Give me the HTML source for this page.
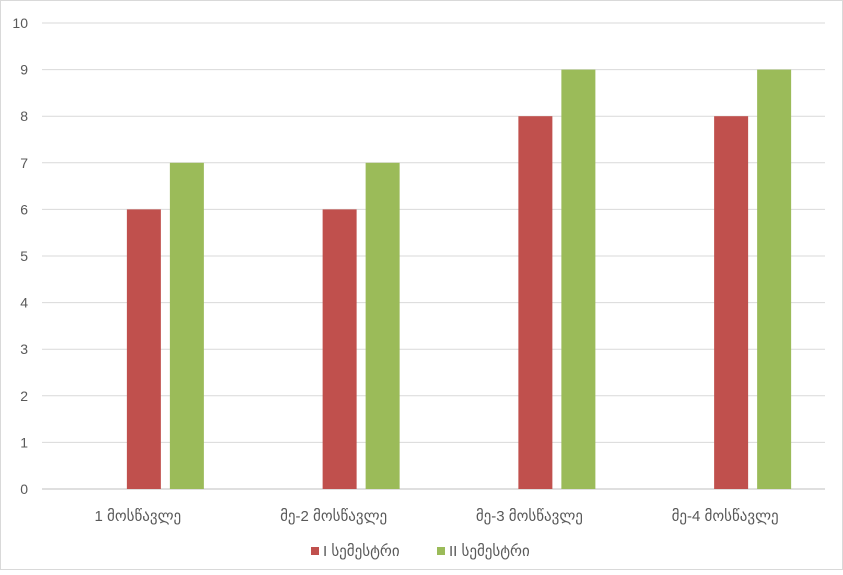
<!DOCTYPE html>
<html><head><meta charset="utf-8"><style>
html,body{margin:0;padding:0;background:#fff;}
svg text{font-family:"Liberation Sans","DejaVu Sans",sans-serif;fill:#595959;}
</style></head><body>
<svg id="chart" width="843" height="570" viewBox="0 0 843 570" xmlns="http://www.w3.org/2000/svg">
<rect x="0.5" y="0.5" width="842" height="569" fill="#fff" stroke="#d9d9d9"/>
<g id="grid"></g>
<g id="ylabels"></g>
<g id="bars"></g>
<g id="xlabels"></g>
<g>
<rect x="311" y="547" width="8" height="8" fill="#c0504d"/>
<text x="323" y="556" font-size="15">I სემესტრი</text>
<rect x="437" y="547" width="8" height="8" fill="#9bbb59"/>
<text x="449" y="556" font-size="15">II სემესტრი</text>
</g>
</svg>
<script>
const categories=["1 მოსწავლე","მე-2 მოსწავლე","მე-3 მოსწავლე","მე-4 მოსწავლე"];
const semester1=[6,6,8,8];
const semester2=[7,7,9,9];
const yTicks=[0,1,2,3,4,5,6,7,8,9,10];
const NS="http://www.w3.org/2000/svg";
const left=42,right=825,y0=489,yTop=23,yMax=10;
const y=v=>y0-(y0-yTop)*v/yMax;
const catW=(right-left)/categories.length;
const cx=i=>left+catW*(i+0.5);
function mk(tag,attrs,parent){const e=document.createElementNS(NS,tag);for(const k in attrs)e.setAttribute(k,attrs[k]);parent.appendChild(e);return e;}
const grid=document.getElementById('grid'),yl=document.getElementById('ylabels'),bars=document.getElementById('bars'),xl=document.getElementById('xlabels');
yTicks.forEach(t=>{
 const l=mk('line',{x1:left,x2:right,y1:y(t),y2:y(t),stroke:t===0?'#bfbfbf':'#d9d9d9','stroke-width':1},grid);
 
 
 const tx=mk('text',{x:28,y:y(t)+5,'text-anchor':'end','font-size':14},yl);
 tx.textContent=t;
 
 
});
const bw=34;
categories.forEach((c,i)=>{
 const r=mk('rect',{x:cx(i)-13,y:y(semester1[i]),width:bw,height:y0-y(semester1[i]),fill:'#c0504d'},bars);
 
 
 const g=mk('rect',{x:cx(i)+30,y:y(semester2[i]),width:bw,height:y0-y(semester2[i]),fill:'#9bbb59'},bars);
 
 
 const t=mk('text',{x:cx(i)-2,y:521,'text-anchor':'middle','font-size':15},xl);
 t.textContent=c;
 
 
});
</script>
</body></html>
